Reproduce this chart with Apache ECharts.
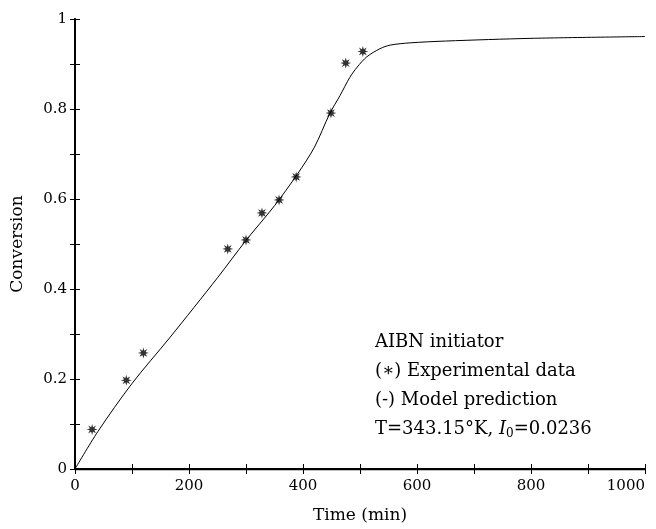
<!DOCTYPE html>
<html><head><meta charset="utf-8">
<script src="https://cdn.jsdelivr.net/npm/echarts@6/dist/echarts.min.js"></script>
<style>html,body{margin:0;padding:0;background:#fff}#c{width:656px;height:529px}</style>
</head><body><div id="c"></div>
<script>
// Experimental data (*)
const expTime = [30, 90, 120, 268, 300, 328, 358, 388, 449, 475, 505];
const expConv = [0.088, 0.197, 0.258, 0.489, 0.509, 0.569, 0.598, 0.649, 0.791, 0.902, 0.928];
// Model prediction (-)
const modelTime = [0, 40, 100, 167, 250, 300, 350, 390, 420, 447, 465, 482, 495, 512, 535, 553, 588, 650, 800, 1000];
const modelConv = [0, 0.083, 0.19, 0.293, 0.425, 0.508, 0.585, 0.655, 0.715, 0.79, 0.83, 0.87, 0.893, 0.916, 0.934, 0.942, 0.947, 0.951, 0.957, 0.961];
const xTicks = [0, 200, 400, 600, 800, 1000];
const yTicks = [0, 0.2, 0.4, 0.6, 0.8, 1];
const annotations = ['AIBN initiator', '(∗) Experimental data', '(-) Model prediction'];

const FONT = '"DejaVu Serif", "Liberation Serif", serif';
const chart = echarts.init(document.getElementById('c'));

// 8-ray asterisk-like star
function starPath() {
  let p = [];
  const n = 8;
  for (let i = 0; i < 2 * n; i++) {
    const r = i % 2 === 0 ? 10 : 4.4;
    const a = Math.PI * i / n - Math.PI / 2;
    p.push((i === 0 ? 'M' : 'L') + (10 + r * Math.cos(a)).toFixed(2) + ' ' + (10 + r * Math.sin(a)).toFixed(2));
  }
  return 'path://' + p.join(' ') + ' Z';
}

const axisCommon = {
  axisLine: { show: true, lineStyle: { color: '#000', width: 1.8 } },
  axisTick: { show: true, inside: true, length: 5, lineStyle: { color: '#000', width: 1 } },
  splitLine: { show: false },
  axisLabel: { color: '#000', fontFamily: FONT, fontSize: 15 }
};

chart.setOption({
  animation: false,
  backgroundColor: '#fff',
  grid: { left: 75, right: 11, top: 19, bottom: 60, containLabel: false, outerBoundsMode: 'none' },
  xAxis: [
    Object.assign({}, axisCommon, {
      type: 'value', min: 0, max: 1000, interval: 100,
      name: 'Time (min)', nameLocation: 'middle', nameGap: 38,
      nameTextStyle: { color: '#000', fontFamily: FONT, fontSize: 17 },
      axisLabel: Object.assign({}, axisCommon.axisLabel, { margin: 10, alignMaxLabel: 'right',
        formatter: v => xTicks.includes(v) ? String(v) : '' })
    }),
    Object.assign({}, axisCommon, {
      type: 'value', min: 0, max: 1000, interval: 100, position: 'top',
      axisLine: { show: true, lineStyle: { color: '#000', width: 1.3 } },
      axisLabel: { show: false }
    })
  ],
  yAxis: [
    Object.assign({}, axisCommon, {
      type: 'value', min: 0, max: 1, interval: 0.1,
      name: 'Conversion', nameLocation: 'middle', nameGap: 49,
      nameTextStyle: { color: '#000', fontFamily: FONT, fontSize: 17 },
      axisLabel: Object.assign({}, axisCommon.axisLabel, { margin: 8,
        formatter: v => {
          const r = Math.round(v * 10) / 10;
          return yTicks.some(t => Math.abs(t - r) < 1e-9) ? String(r) : '';
        } })
    }),
    Object.assign({}, axisCommon, {
      type: 'value', min: 0, max: 1, interval: 0.1, position: 'right',
      axisLabel: { show: false }
    })
  ],
  series: [
    {
      type: 'line',
      data: modelTime.map((t, i) => [t, modelConv[i]]),
      smooth: 0.3,
      showSymbol: false,
      lineStyle: { color: '#000', width: 1 },
      z: 2
    },
    {
      type: 'scatter',
      data: expTime.map((t, i) => [t, expConv[i]]),
      symbol: starPath(), symbolSize: 11,
      itemStyle: { color: '#000' },
      z: 3
    }
  ],
  graphic: [
    { type: 'text', left: 375, top: 333, style: { text: annotations[0], font: '18px ' + FONT, fill: '#000' } },
    { type: 'text', left: 375, top: 362, style: { text: annotations[1], font: '18px ' + FONT, fill: '#000' } },
    { type: 'text', left: 375, top: 391, style: { text: annotations[2], font: '18px ' + FONT, fill: '#000' } },
    { type: 'text', left: 375, top: 420, style: {
        text: '{n|T=343.15°K, }{i|I}{s|0}{n|=0.0236}',
        rich: {
          n: { font: '18px ' + FONT, fill: '#000' },
          i: { font: 'italic 18px ' + FONT, fill: '#000' },
          s: { font: '12px ' + FONT, fill: '#000', padding: [9, 0, 0, 0] }
        }
      } }
  ]
});
</script>
</body></html>
